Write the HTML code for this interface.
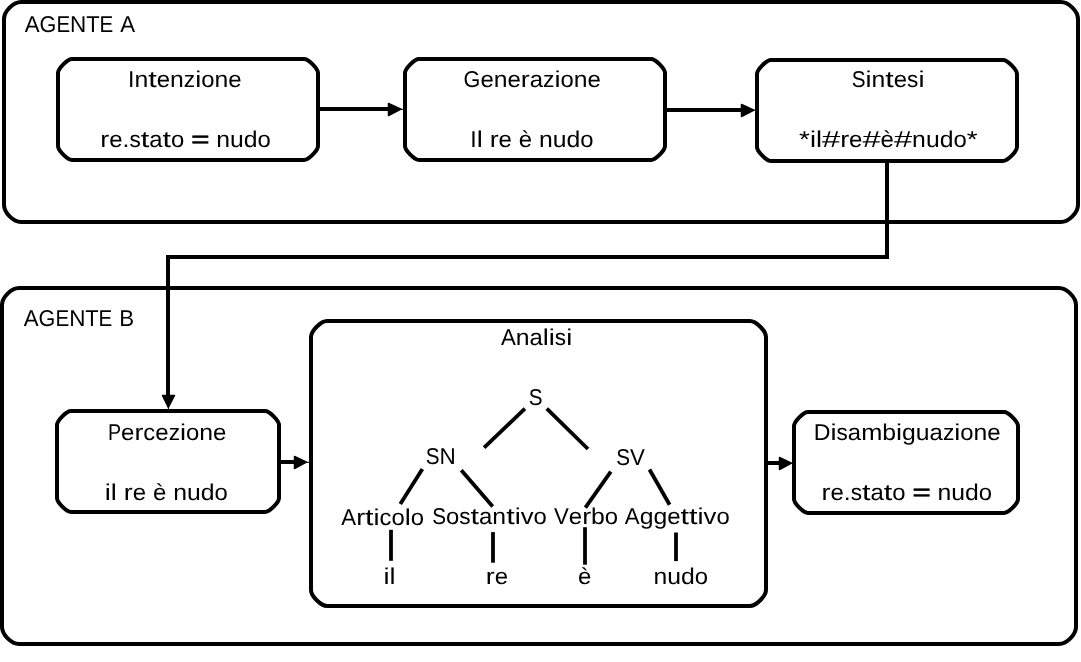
<!DOCTYPE html>
<html><head><meta charset="utf-8"><title>Agente A / Agente B</title>
<style>
html,body{margin:0;padding:0;background:#fff;width:1081px;height:662px;overflow:hidden}
svg{display:block;will-change:transform}
text{text-rendering:geometricPrecision;font-family:"Liberation Sans",sans-serif;font-size:22.9px;fill:#000}
</style></head><body>
<svg width="1081" height="662" viewBox="0 0 1081 662">
<rect x="0" y="0" width="1081" height="662" fill="#fff"/>
<g fill="none" stroke="#000" stroke-width="4">
<path d="M21 2H1061C1068.65 2 1078 11.35 1078 19V205C1078 212.65 1068.65 222 1061 222H21C13.35 222 4 212.65 4 205V19C4 11.35 13.35 2 21 2Z"/><path d="M19 288H1059C1066.65 288 1076 297.35 1076 305V627C1076 634.65 1066.65 644 1059 644H19C11.35 644 2 634.65 2 627V305C2 297.35 11.35 288 19 288Z"/><path d="M72 59H304C308.48 59 318 68.52 318 73V146C318 150.48 308.48 160 304 160H72C67.52 160 58 150.48 58 146V73C58 68.52 67.52 59 72 59Z"/><path d="M419 59H651C655.48 59 665 68.52 665 73V146C665 150.48 655.48 160 651 160H419C414.52 160 405 150.48 405 146V73C405 68.52 414.52 59 419 59Z"/><path d="M771 60H1003C1007.48 60 1017 69.52 1017 74V147C1017 151.48 1007.48 161 1003 161H771C766.52 161 757 151.48 757 147V74C757 69.52 766.52 60 771 60Z"/><path d="M71 411H265C269.48 411 279 420.52 279 425V498C279 502.48 269.48 512 265 512H71C66.52 512 57 502.48 57 498V425C57 420.52 66.52 411 71 411Z"/><path d="M327 321H750C756.08 321 766 330.92 766 337V590C766 596.08 756.08 606 750 606H327C320.92 606 311 596.08 311 590V337C311 330.92 320.92 321 327 321Z"/><path d="M808 412H1004C1008.48 412 1018 421.52 1018 426V499C1018 503.48 1008.48 513 1004 513H808C803.52 513 794 503.48 794 499V426C794 421.52 803.52 412 808 412Z"/>
</g>
<g fill="none" stroke="#000" stroke-width="4" stroke-linecap="butt">
<path d="M320 109 H392"/><path d="M667 110 H745"/><path d="M887 162 V257 H168 V399" stroke-linejoin="miter"/><path d="M281 462 H298"/><path d="M768 463 H783"/>
</g>
<g fill="#000" stroke="#000" stroke-width="1.5" stroke-linejoin="round">
<polygon points="388.5,103.5 401,109.2 388.5,115.5"/><polygon points="741.5,104.5 754,110.2 741.5,116.5"/><polygon points="162.5,395.5 168.3,407.5 174.5,395.5"/><polygon points="294.5,456.5 306.5,462.2 294.5,468.5"/><polygon points="779.5,457.5 791.5,463.2 779.5,469.5"/>
</g>
<path d="M401 109.3H404M754 110.3H756M168.4 407.5V410M306.5 462.3H310M791.5 463.3H793" fill="none" stroke="#000" stroke-width="1"/>
<g stroke="#000" stroke-width="3.8" stroke-linecap="butt">
<line x1="524.9" y1="408.6" x2="484.1" y2="447.6"/><line x1="546.8" y1="408.6" x2="588" y2="449"/><line x1="422.4" y1="469.1" x2="400.3" y2="504.1"/><line x1="461.3" y1="470.3" x2="492.7" y2="506.5"/><line x1="610.8" y1="471.6" x2="585.4" y2="507.6"/><line x1="649.5" y1="469.5" x2="669.6" y2="504.8"/><line x1="391" y1="529.8" x2="391" y2="560.8"/><line x1="493" y1="532.1" x2="493" y2="562.7"/><line x1="585" y1="527.2" x2="585" y2="564.7"/><line x1="676" y1="532.5" x2="676" y2="561.1"/>
</g>
<g>
<text transform="translate(24.73 31.70) scale(0.972 1)">A</text>
<text transform="translate(39.58 31.70) scale(0.944 1)">G</text>
<text transform="translate(56.39 31.70) scale(0.898 1)">E</text>
<text transform="translate(70.10 31.70) scale(0.982 1)">N</text>
<text transform="translate(86.27 31.70) scale(0.957 1)">T</text>
<text transform="translate(99.59 31.70) scale(0.898 1)">E</text>
<text transform="translate(120.20 31.70) scale(0.972 1)">A</text>
<text transform="translate(128.02 86.70) scale(1.006 1)">I</text>
<text transform="translate(134.42 86.70) scale(1.081 1)">n</text>
<text transform="translate(148.18 86.70) scale(1.336 1)">t</text>
<text transform="translate(156.68 86.70) scale(1.048 1)">e</text>
<text transform="translate(170.03 86.70) scale(1.081 1)">n</text>
<text transform="translate(183.79 86.70) scale(0.995 1)">z</text>
<text transform="translate(195.18 86.70) scale(1.187 1)">i</text>
<text transform="translate(201.21 86.70) scale(1.043 1)">o</text>
<text transform="translate(214.48 86.70) scale(1.081 1)">n</text>
<text transform="translate(228.24 86.70) scale(1.048 1)">e</text>
<text transform="translate(100.29 146.50) scale(1.172 1)">r</text>
<text transform="translate(109.21 146.50) scale(1.048 1)">e</text>
<text transform="translate(122.56 146.50) scale(1.084 1)">.</text>
<text transform="translate(129.46 146.50) scale(0.987 1)">s</text>
<text transform="translate(140.76 146.50) scale(1.336 1)">t</text>
<text transform="translate(149.27 146.50) scale(1.043 1)">a</text>
<text transform="translate(162.57 146.50) scale(1.336 1)">t</text>
<text transform="translate(171.08 146.50) scale(1.043 1)">o</text>
<text transform="translate(191.25 146.50) scale(1.360 1)" stroke="#000" stroke-width="0.7">=</text>
<text transform="translate(216.33 146.50) scale(1.081 1)">n</text>
<text transform="translate(230.08 146.50) scale(1.081 1)">u</text>
<text transform="translate(243.84 146.50) scale(1.082 1)">d</text>
<text transform="translate(257.61 146.50) scale(1.043 1)">o</text>
<text transform="translate(463.60 86.70) scale(0.944 1)">G</text>
<text transform="translate(480.42 86.70) scale(1.048 1)">e</text>
<text transform="translate(493.77 86.70) scale(1.081 1)">n</text>
<text transform="translate(507.52 86.70) scale(1.048 1)">e</text>
<text transform="translate(520.87 86.70) scale(1.172 1)">r</text>
<text transform="translate(529.79 86.70) scale(1.043 1)">a</text>
<text transform="translate(543.09 86.70) scale(0.995 1)">z</text>
<text transform="translate(554.48 86.70) scale(1.187 1)">i</text>
<text transform="translate(560.51 86.70) scale(1.043 1)">o</text>
<text transform="translate(573.79 86.70) scale(1.081 1)">n</text>
<text transform="translate(587.54 86.70) scale(1.048 1)">e</text>
<text transform="translate(470.34 146.50) scale(1.006 1)">I</text>
<text transform="translate(476.74 146.50) scale(1.187 1)">l</text>
<text transform="translate(489.67 146.50) scale(1.172 1)">r</text>
<text transform="translate(498.59 146.50) scale(1.048 1)">e</text>
<text transform="translate(518.84 146.50) scale(1.048 1)">è</text>
<text transform="translate(539.08 146.50) scale(1.081 1)">n</text>
<text transform="translate(552.84 146.50) scale(1.081 1)">u</text>
<text transform="translate(566.59 146.50) scale(1.082 1)">d</text>
<text transform="translate(580.37 146.50) scale(1.043 1)">o</text>
<text transform="translate(851.67 86.80) scale(0.902 1)">S</text>
<text transform="translate(865.44 86.80) scale(1.187 1)">i</text>
<text transform="translate(871.47 86.80) scale(1.081 1)">n</text>
<text transform="translate(885.23 86.80) scale(1.336 1)">t</text>
<text transform="translate(893.74 86.80) scale(1.048 1)">e</text>
<text transform="translate(907.09 86.80) scale(0.987 1)">s</text>
<text transform="translate(918.39 86.80) scale(1.187 1)">i</text>
<text transform="translate(799.05 146.60) scale(1.218 1)">*</text>
<text transform="translate(809.90 146.60) scale(1.187 1)">i</text>
<text transform="translate(815.93 146.60) scale(1.187 1)">l</text>
<text transform="translate(821.96 146.60) scale(1.428 1)">#</text>
<text transform="translate(840.14 146.60) scale(1.172 1)">r</text>
<text transform="translate(849.06 146.60) scale(1.048 1)">e</text>
<text transform="translate(862.41 146.60) scale(1.428 1)">#</text>
<text transform="translate(880.59 146.60) scale(1.048 1)">è</text>
<text transform="translate(893.94 146.60) scale(1.428 1)">#</text>
<text transform="translate(912.12 146.60) scale(1.081 1)">n</text>
<text transform="translate(925.88 146.60) scale(1.081 1)">u</text>
<text transform="translate(939.63 146.60) scale(1.082 1)">d</text>
<text transform="translate(953.41 146.60) scale(1.043 1)">o</text>
<text transform="translate(966.68 146.60) scale(1.218 1)">*</text>
<text transform="translate(23.76 325.90) scale(0.972 1)">A</text>
<text transform="translate(38.61 325.90) scale(0.944 1)">G</text>
<text transform="translate(55.42 325.90) scale(0.898 1)">E</text>
<text transform="translate(69.13 325.90) scale(0.982 1)">N</text>
<text transform="translate(85.30 325.90) scale(0.957 1)">T</text>
<text transform="translate(98.62 325.90) scale(0.898 1)">E</text>
<text transform="translate(119.23 325.90) scale(0.975 1)">B</text>
<text transform="translate(108.01 439.50) scale(0.857 1)">P</text>
<text transform="translate(121.10 439.50) scale(1.048 1)">e</text>
<text transform="translate(134.45 439.50) scale(1.172 1)">r</text>
<text transform="translate(143.37 439.50) scale(1.042 1)">c</text>
<text transform="translate(155.30 439.50) scale(1.048 1)">e</text>
<text transform="translate(168.65 439.50) scale(0.995 1)">z</text>
<text transform="translate(180.04 439.50) scale(1.187 1)">i</text>
<text transform="translate(186.07 439.50) scale(1.043 1)">o</text>
<text transform="translate(199.35 439.50) scale(1.081 1)">n</text>
<text transform="translate(213.10 439.50) scale(1.048 1)">e</text>
<text transform="translate(104.77 499.60) scale(1.187 1)">i</text>
<text transform="translate(110.80 499.60) scale(1.187 1)">l</text>
<text transform="translate(123.73 499.60) scale(1.172 1)">r</text>
<text transform="translate(132.65 499.60) scale(1.048 1)">e</text>
<text transform="translate(152.90 499.60) scale(1.048 1)">è</text>
<text transform="translate(173.15 499.60) scale(1.081 1)">n</text>
<text transform="translate(186.90 499.60) scale(1.081 1)">u</text>
<text transform="translate(200.65 499.60) scale(1.082 1)">d</text>
<text transform="translate(214.43 499.60) scale(1.043 1)">o</text>
<text transform="translate(813.80 439.70) scale(1.011 1)">D</text>
<text transform="translate(830.51 439.70) scale(1.187 1)">i</text>
<text transform="translate(836.54 439.70) scale(0.987 1)">s</text>
<text transform="translate(847.84 439.70) scale(1.043 1)">a</text>
<text transform="translate(861.14 439.70) scale(1.108 1)">m</text>
<text transform="translate(882.28 439.70) scale(1.082 1)">b</text>
<text transform="translate(896.05 439.70) scale(1.187 1)">i</text>
<text transform="translate(902.08 439.70) scale(1.082 1)">g</text>
<text transform="translate(915.86 439.70) scale(1.081 1)">u</text>
<text transform="translate(929.61 439.70) scale(1.043 1)">a</text>
<text transform="translate(942.91 439.70) scale(0.995 1)">z</text>
<text transform="translate(954.30 439.70) scale(1.187 1)">i</text>
<text transform="translate(960.33 439.70) scale(1.043 1)">o</text>
<text transform="translate(973.60 439.70) scale(1.081 1)">n</text>
<text transform="translate(987.36 439.70) scale(1.048 1)">e</text>
<text transform="translate(821.54 499.50) scale(1.172 1)">r</text>
<text transform="translate(830.46 499.50) scale(1.048 1)">e</text>
<text transform="translate(843.81 499.50) scale(1.084 1)">.</text>
<text transform="translate(850.71 499.50) scale(0.987 1)">s</text>
<text transform="translate(862.01 499.50) scale(1.336 1)">t</text>
<text transform="translate(870.52 499.50) scale(1.043 1)">a</text>
<text transform="translate(883.82 499.50) scale(1.336 1)">t</text>
<text transform="translate(892.33 499.50) scale(1.043 1)">o</text>
<text transform="translate(912.50 499.50) scale(1.360 1)" stroke="#000" stroke-width="0.7">=</text>
<text transform="translate(937.58 499.50) scale(1.081 1)">n</text>
<text transform="translate(951.33 499.50) scale(1.081 1)">u</text>
<text transform="translate(965.09 499.50) scale(1.082 1)">d</text>
<text transform="translate(978.86 499.50) scale(1.043 1)">o</text>
<text transform="translate(500.91 344.60) scale(0.972 1)">A</text>
<text transform="translate(515.75 344.60) scale(1.081 1)">n</text>
<text transform="translate(529.51 344.60) scale(1.043 1)">a</text>
<text transform="translate(542.80 344.60) scale(1.187 1)">l</text>
<text transform="translate(548.83 344.60) scale(1.187 1)">i</text>
<text transform="translate(554.86 344.60) scale(0.987 1)">s</text>
<text transform="translate(566.17 344.60) scale(1.187 1)">i</text>
<text transform="translate(528.66 404.60) scale(0.902 1)">S</text>
<text transform="translate(425.69 464.40) scale(0.902 1)">S</text>
<text transform="translate(439.47 464.40) scale(0.982 1)">N</text>
<text transform="translate(616.24 464.50) scale(0.902 1)">S</text>
<text transform="translate(630.01 464.50) scale(0.972 1)">V</text>
<text transform="translate(341.30 524.50) scale(0.972 1)">A</text>
<text transform="translate(356.14 524.50) scale(1.172 1)">r</text>
<text transform="translate(365.06 524.50) scale(1.336 1)">t</text>
<text transform="translate(373.57 524.50) scale(1.187 1)">i</text>
<text transform="translate(379.60 524.50) scale(1.042 1)">c</text>
<text transform="translate(391.53 524.50) scale(1.043 1)">o</text>
<text transform="translate(404.81 524.50) scale(1.187 1)">l</text>
<text transform="translate(410.84 524.50) scale(1.043 1)">o</text>
<text transform="translate(432.21 524.20) scale(0.902 1)">S</text>
<text transform="translate(445.99 524.20) scale(1.043 1)">o</text>
<text transform="translate(459.26 524.20) scale(0.987 1)">s</text>
<text transform="translate(470.57 524.20) scale(1.336 1)">t</text>
<text transform="translate(479.08 524.20) scale(1.043 1)">a</text>
<text transform="translate(492.37 524.20) scale(1.081 1)">n</text>
<text transform="translate(506.13 524.20) scale(1.336 1)">t</text>
<text transform="translate(514.64 524.20) scale(1.187 1)">i</text>
<text transform="translate(520.67 524.20) scale(1.122 1)">v</text>
<text transform="translate(533.51 524.20) scale(1.043 1)">o</text>
<text transform="translate(553.96 524.40) scale(0.972 1)">V</text>
<text transform="translate(568.81 524.40) scale(1.048 1)">e</text>
<text transform="translate(582.16 524.40) scale(1.172 1)">r</text>
<text transform="translate(591.08 524.40) scale(1.082 1)">b</text>
<text transform="translate(604.85 524.40) scale(1.043 1)">o</text>
<text transform="translate(624.80 524.20) scale(0.972 1)">A</text>
<text transform="translate(639.65 524.20) scale(1.082 1)">g</text>
<text transform="translate(653.42 524.20) scale(1.082 1)">g</text>
<text transform="translate(667.19 524.20) scale(1.048 1)">e</text>
<text transform="translate(680.55 524.20) scale(1.336 1)">t</text>
<text transform="translate(689.05 524.20) scale(1.336 1)">t</text>
<text transform="translate(697.56 524.20) scale(1.187 1)">i</text>
<text transform="translate(703.59 524.20) scale(1.122 1)">v</text>
<text transform="translate(716.43 524.20) scale(1.043 1)">o</text>
<text transform="translate(383.57 583.70) scale(1.187 1)">i</text>
<text transform="translate(389.60 583.70) scale(1.187 1)">l</text>
<text transform="translate(485.86 583.70) scale(1.172 1)">r</text>
<text transform="translate(494.78 583.70) scale(1.048 1)">e</text>
<text transform="translate(577.98 583.70) scale(1.048 1)">è</text>
<text transform="translate(653.52 583.70) scale(1.081 1)">n</text>
<text transform="translate(667.28 583.70) scale(1.081 1)">u</text>
<text transform="translate(681.03 583.70) scale(1.082 1)">d</text>
<text transform="translate(694.80 583.70) scale(1.043 1)">o</text>
</g>
</svg>
</body></html>
